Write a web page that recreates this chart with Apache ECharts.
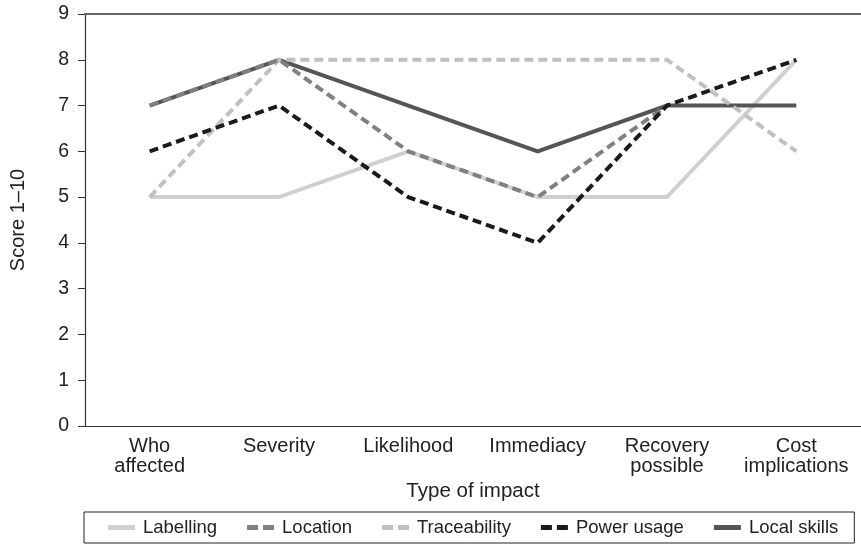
<!DOCTYPE html>
<html>
<head>
<meta charset="utf-8">
<script src="https://cdn.jsdelivr.net/npm/echarts@6/dist/echarts.min.js"></script>
<style>html,body{margin:0;padding:0;background:#fff}#c{width:861px;height:545px}</style>
</head>
<body>
<div id="c"></div>
<script>
const categories = ['Who\naffected', 'Severity', 'Likelihood', 'Immediacy', 'Recovery\npossible', 'Cost\nimplications'];
const labellingScores = [5, 5, 6, 5, 5, 8];
const locationScores = [7, 8, 6, 5, 7, null];
const traceabilityScores = [5, 8, 8, 8, 8, 6];
const powerUsageScores = [6, 7, 5, 4, 7, 8];
const localSkillsScores = [7, 8, 7, 6, 7, 7];
const yTicks = [0, 1, 2, 3, 4, 5, 6, 7, 8, 9];
const seriesNames = ['Labelling', 'Location', 'Traceability', 'Power usage', 'Local skills'];

const font = 'Liberation Sans';
const solidIcon = 'path://M0,0H27V5H0Z';
const dashIcon = 'path://M0,0H11V5H0Z M16,0H27V5H16Z';
const chart = echarts.init(document.getElementById('c'));
function mk(name, data, color, dashed, z) {
  return {
    name, type: 'line', data, symbol: 'none', z,
    lineStyle: { color, width: 4, type: dashed ? [9, 5] : 'solid', cap: 'butt', join: 'miter' },
    itemStyle: { color },
    animation: false
  };
}
const dashedSet = { 'Location': true, 'Traceability': true, 'Power usage': true };
chart.setOption({
  animation: false,
  textStyle: { fontFamily: font },
  grid: { left: 84, right: -2, top: 14, bottom: 119 },
  legend: {
    data: seriesNames.map(n => ({ name: n, icon: dashedSet[n] ? dashIcon : solidIcon })),
    left: 84, top: 512,
    borderColor: '#222', borderWidth: 1,
    padding: [6, 16, 6, 24],
    itemGap: 30, itemWidth: 27, itemHeight: 5,
    textStyle: { fontFamily: font, fontSize: 18.5, color: '#222', lineHeight: 18, padding: [0, 0, 0, 3] }
  },
  xAxis: [{
    type: 'category', data: categories, boundaryGap: true,
    name: 'Type of impact', nameLocation: 'middle', nameGap: 53,
    nameTextStyle: { fontFamily: font, fontSize: 20.5, color: '#222' },
    axisLine: { lineStyle: { color: '#333', width: 1.2 } },
    axisTick: { length: 7, lineStyle: { color: '#333' } },
    axisLabel: { fontFamily: font, fontSize: 20, color: '#222', lineHeight: 20, margin: 10, interval: 0 }
  }, {
    type: 'category', data: categories, position: 'top',
    axisLine: { lineStyle: { color: '#666', width: 2 } },
    axisTick: { show: false }, axisLabel: { show: false }
  }],
  yAxis: {
    type: 'value', min: 0, max: 9, interval: 1,
    name: 'Score 1–10', nameLocation: 'middle', nameGap: 57, nameRotate: 90,
    nameTextStyle: { fontFamily: font, fontSize: 20, color: '#222' },
    axisLine: { show: true, lineStyle: { color: '#333', width: 1.2 } },
    axisTick: { show: true, length: 7, lineStyle: { color: '#333' } },
    axisLabel: { fontFamily: font, fontSize: 19.5, color: '#222', margin: 16,
      formatter: v => yTicks.includes(v) ? String(v) : '' },
    splitLine: { show: false }
  },
  series: [
    mk('Labelling', labellingScores, '#d0d0d0', false, 2),
    mk('Location', locationScores, '#808080', true, 5),
    mk('Traceability', traceabilityScores, '#c0c0c0', true, 4),
    mk('Power usage', powerUsageScores, '#1a1a1a', true, 6),
    mk('Local skills', localSkillsScores, '#555555', false, 3)
  ]
});
</script>
</body>
</html>
